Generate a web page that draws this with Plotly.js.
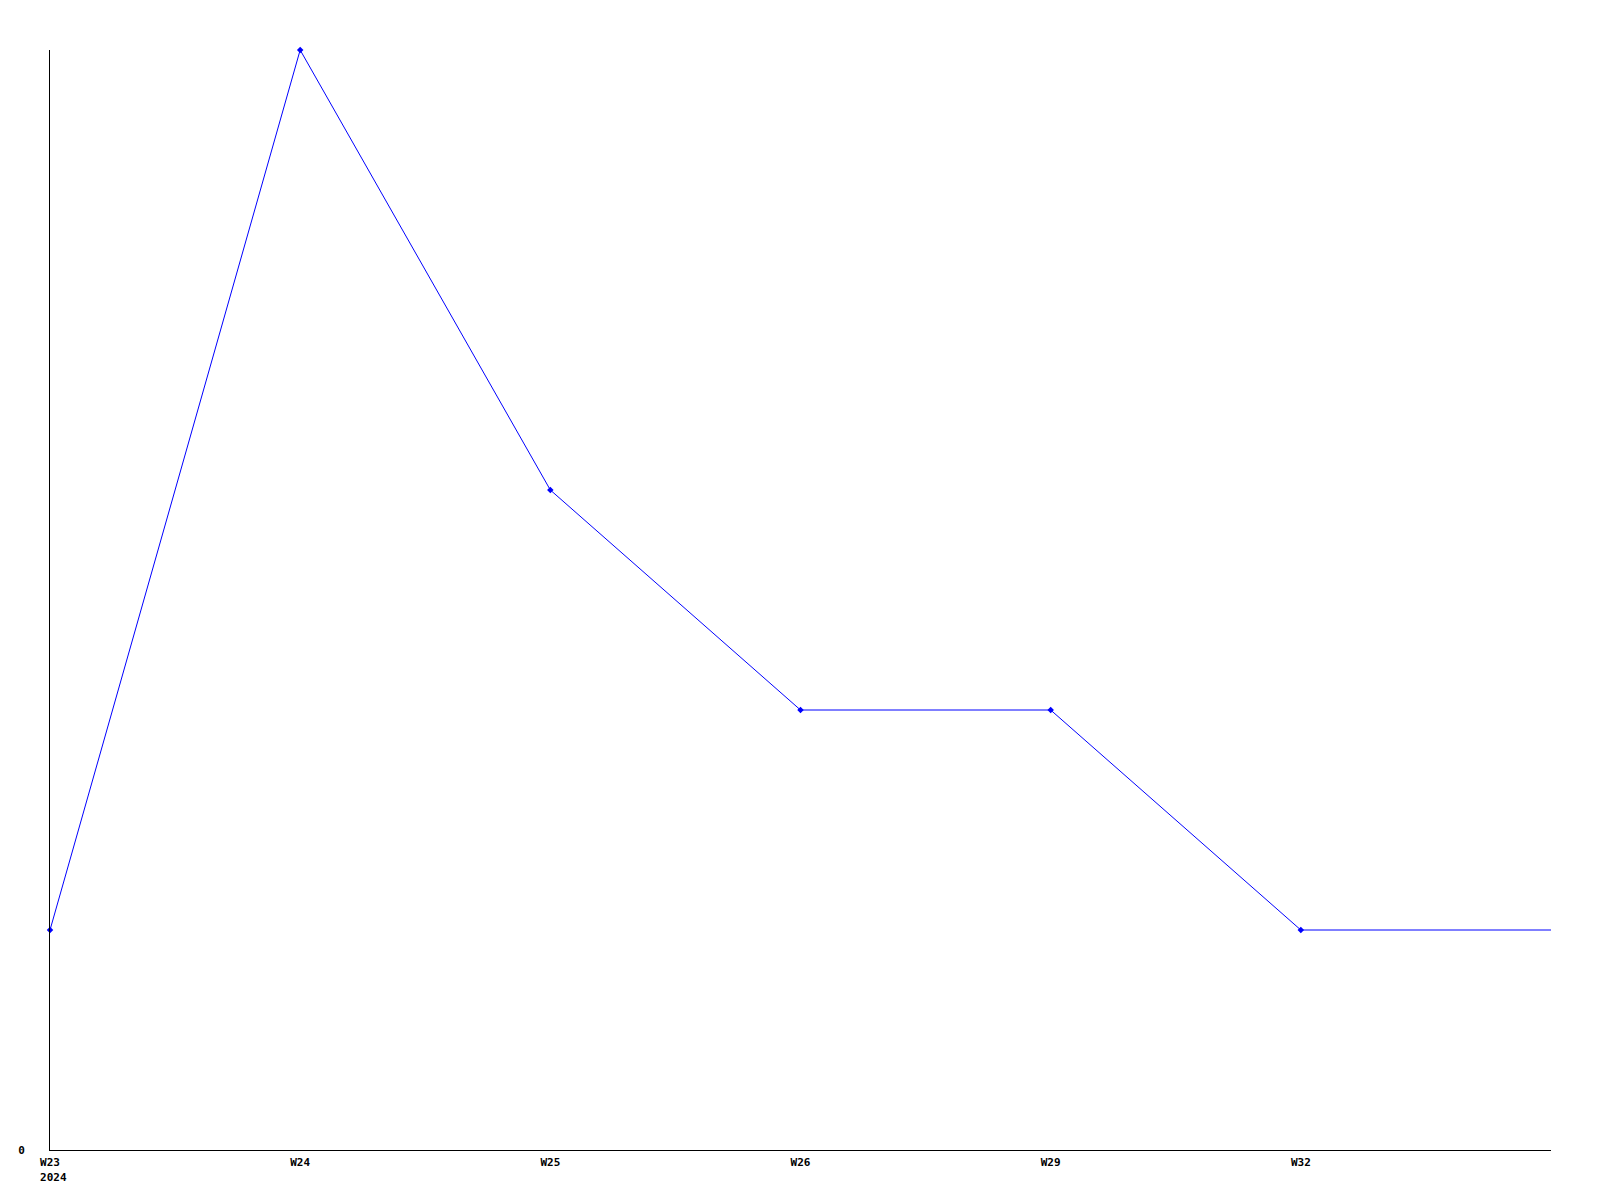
<!DOCTYPE html>
<html>
<head>
<meta charset="utf-8">
<script src="https://cdn.plot.ly/plotly-3.0.1.min.js"></script>
<style>html,body{margin:0;padding:0;background:#fff;}#chart{width:1600px;height:1200px;}</style>
</head>
<body>
<div id="chart"></div>
<script>
const categories = ["W23", "W24", "W25", "W26", "W29", "W32"];
const tickLabels = ["W23<br>\u00a02024", "W24", "W25", "W26", "W29", "W32"];
const values = [1, 5, 3, 2, 2, 1];
const yTickVals = [0];
const yTickText = ["0"];

const idx = categories.map((_, i) => i);
// line continues flat from the last week to the right edge of the plot
const lineX = idx.concat([categories.length]);
const lineY = values.concat([values[values.length - 1]]);

const font = {family: "DejaVu Sans Mono, monospace", size: 11, color: "#000"};

const traces = [
  {x: lineX, y: lineY, type: "scatter", mode: "lines",
   line: {color: "#0000ff", width: 1}, hoverinfo: "skip", cliponaxis: false},
  {x: idx, y: values, type: "scatter", mode: "markers",
   marker: {color: "#0000ff", size: 5, symbol: "diamond"}, cliponaxis: false,
   text: categories}
];

const layout = {
  width: 1600, height: 1200,
  margin: {l: 50, r: 49, t: 50, b: 50},
  paper_bgcolor: "#fff", plot_bgcolor: "#fff",
  showlegend: false,
  font: font,
  xaxis: {range: [0, categories.length], tickvals: idx, ticktext: tickLabels,
          showgrid: false, zeroline: false, showline: true, linecolor: "#000", linewidth: 1,
          ticks: "", ticklabelstandoff: 2, tickfont: {family: "DejaVu Sans Mono, monospace", size: 11, color: "#000", weight: "bold"}},
  yaxis: {range: [0, 5], tickvals: yTickVals, ticktext: yTickText,
          showgrid: false, zeroline: false, showline: true, linecolor: "#000", linewidth: 1,
          ticks: "", ticklabelstandoff: 22, tickfont: {family: "DejaVu Sans Mono, monospace", size: 11, color: "#000", weight: "bold"}}
};

Plotly.newPlot("chart", traces, layout, {displayModeBar: false, staticPlot: true});
</script>
</body>
</html>
